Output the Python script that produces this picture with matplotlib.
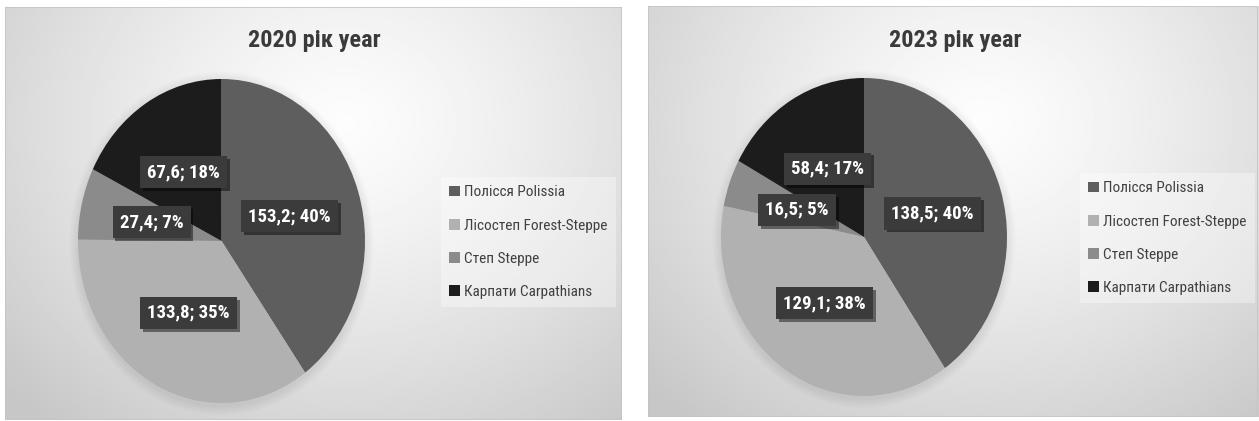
import matplotlib
matplotlib.use('Agg')
import matplotlib.pyplot as plt
import matplotlib.patheffects as pe
from matplotlib.patches import Rectangle, Ellipse
from matplotlib import font_manager
import numpy as np

# data
regions = ['Полісся Polissia', 'Лісостеп Forest-Steppe', 'Степ Steppe', 'Карпати Carpathians']
values_2020 = [153.2, 133.8, 27.4, 67.6]
values_2023 = [138.5, 129.1, 16.5, 58.4]
titles = ['2020 рік year', '2023 рік year']
colors = ['#5e5e5e', '#b1b1b1', '#8b8b8b', '#1c1c1c']

# pick a narrow face if one is around (the original uses Calibri)
installed = {f.name for f in font_manager.fontManager.ttflist}
FONT = [f for f in ['Roboto Condensed', 'DejaVu Sans Condensed', 'Liberation Sans Narrow',
                    'Open Sans Condensed', 'Roboto', 'DejaVu Sans'] if f in installed]
narrow = FONT[0] in ('Roboto Condensed', 'DejaVu Sans Condensed', 'Liberation Sans Narrow',
                     'Open Sans Condensed')
plt.rcParams['font.family'] = FONT
scale = 1.0 if narrow else 0.88

W, H = 1259, 421
fig = plt.figure(figsize=(W / 100, H / 100), dpi=100)
fig.patch.set_facecolor('white')


def px(x0, x1, top, bottom):
    # pixel box -> figure fraction rect
    return [x0 / W, (H - bottom) / H, (x1 - x0) / W, (bottom - top) / H]


def panel(rect):
    ax = fig.add_axes(rect)
    yy, xx = np.mgrid[0:1:300j, 0:1:300j]
    d = np.sqrt(((xx - 0.55) / 0.75) ** 2 + ((yy - 0.72) / 0.95) ** 2)
    grad = 0.99 - 0.21 * np.clip(d, 0, 1) ** 1.3
    ax.imshow(grad, extent=[0, 1, 0, 1], origin='lower', aspect='auto',
              cmap='gray', vmin=0, vmax=1, interpolation='bilinear')
    ax.add_patch(Rectangle((0, 0), 1, 1, transform=ax.transAxes, fill=False,
                           edgecolor='#c4c4c4', linewidth=1.2))
    ax.set_xlim(0, 1)
    ax.set_ylim(0, 1)
    ax.axis('off')
    return ax


def draw_pie(rect, values, title, title_xy, legend_xy):
    ax = fig.add_axes(rect)
    # soft shadow under the pie
    for k in range(6):
        s = 1.0 + 0.01 * (k + 1)
        ax.add_patch(Ellipse((0.0, -0.015), 2 * s, 2 * s, facecolor='black',
                             alpha=0.012, edgecolor='none', clip_on=False))
    wedges, _, autotexts = ax.pie(values, colors=colors, startangle=90,
                                  counterclock=False, autopct='%1.0f%%',
                                  pctdistance=0.5, radius=1.0,
                                  wedgeprops=dict(linewidth=0))
    for w in wedges:
        w.set_clip_on(False)
    ax.set_aspect('auto')
    ax.set_xlim(-1, 1)
    ax.set_ylim(-1, 1)
    total = sum(values)
    for t, v in zip(autotexts, values):
        pct = v / total * 100
        t.set_text(f"{v:.1f}".replace('.', ',') + f"; {pct:.0f}%")
        t.set_color('white')
        t.set_fontsize(13.5 * scale)
        t.set_fontweight('bold')
        t.set_bbox(dict(boxstyle='square,pad=0.38', facecolor='#3b3b3b',
                        edgecolor='none'))
        t.get_bbox_patch().set_path_effects(
            [pe.SimplePatchShadow(offset=(2, -2), shadow_rgbFace='black', alpha=0.45),
             pe.Normal()])
    fig.text(title_xy[0] / W, 1 - title_xy[1] / H, title, ha='center', va='center',
             fontsize=17.5 * scale, fontweight='bold', color='#3a3a3a')
    leg = fig.legend(wedges, regions, loc='upper left',
                     bbox_to_anchor=(legend_xy[0] / W, 1 - legend_xy[1] / H),
                     bbox_transform=fig.transFigure, fontsize=11 * scale,
                     handlelength=0.7, handleheight=0.7, handletextpad=0.25,
                     labelspacing=1.25, borderpad=0.55, borderaxespad=0,
                     frameon=True, fancybox=False)
    leg.get_frame().set_facecolor('white')
    leg.get_frame().set_alpha(0.35)
    leg.get_frame().set_edgecolor('none')
    for txt in leg.get_texts():
        txt.set_color('#404040')
    return ax


panel(px(5, 622, 7, 420))
panel(px(648, 1258, 6, 417))

draw_pie(px(78, 365, 79, 403), values_2020, titles[0], (314, 40), (441, 177))
draw_pie(px(721, 1007, 78, 396), values_2023, titles[1], (955, 40), (1080, 173))

fig.savefig('out.png', dpi=100, facecolor=fig.get_facecolor())
